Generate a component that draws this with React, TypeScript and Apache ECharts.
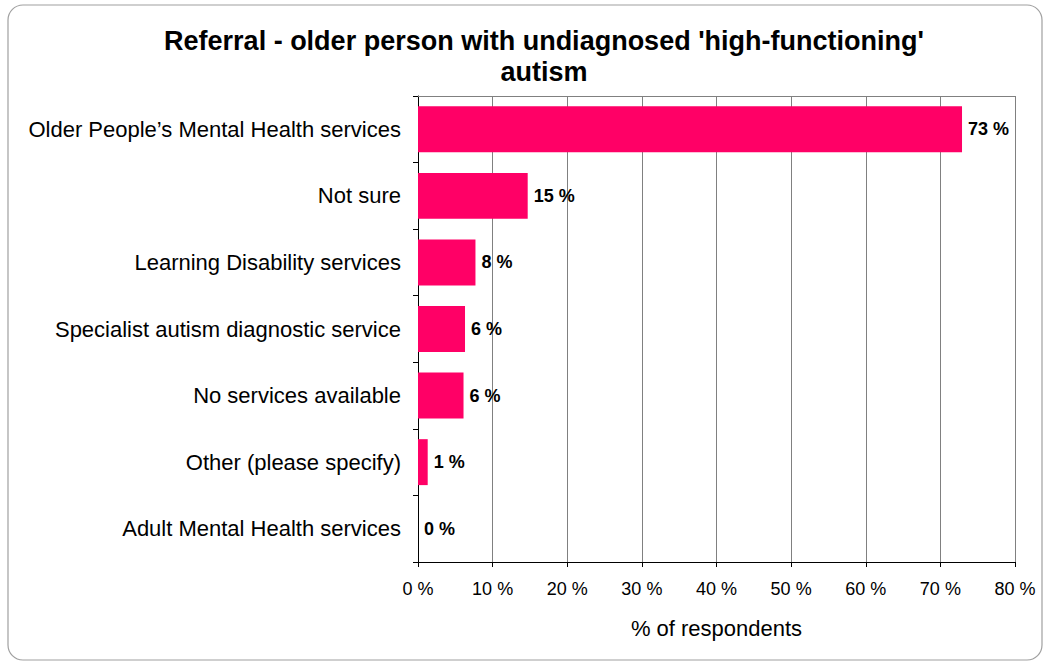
import React, { useEffect, useRef } from "react";
import * as echarts from "echarts";

const categories = [
  "Older People’s Mental Health services",
  "Not sure",
  "Learning Disability services",
  "Specialist autism diagnostic service",
  "No services available",
  "Other (please specify)",
  "Adult Mental Health services",
];
const values = [72.9, 14.7, 7.7, 6.3, 6.1, 1.3, 0];
const titleText = "Referral - older person with undiagnosed 'high-functioning'\nautism";
const xAxisName = "% of respondents";

export default function App() {
  const ref = useRef<HTMLDivElement>(null);
  useEffect(() => {
    if (!ref.current) return;
    const chart = echarts.init(ref.current, null, { renderer: "svg" });
    const font = "Liberation Sans, Arial, sans-serif";
    chart.setOption({
      animation: false,
      backgroundColor: "#ffffff",
      textStyle: { fontFamily: font },
      title: {
        text: titleText,
        left: 539,
        top: 20,
        textAlign: "center",
        textStyle: { fontSize: 27, fontWeight: "bold", color: "#000", lineHeight: 31, fontFamily: font },
      },
      graphic: [
        {
          type: "rect",
          shape: { x: 8, y: 5, width: 1034, height: 655, r: 15 },
          style: { fill: "none", stroke: "#a0a0a0", lineWidth: 1.2 },
          silent: true,
          z: 100,
        },
      ],
      grid: { left: 418, right: 30, top: 96, bottom: 101, containLabel: false },
      xAxis: [
        {
          type: "value",
          min: 0,
          max: 80,
          interval: 10,
          name: xAxisName,
          nameLocation: "middle",
          nameGap: 55,
          nameTextStyle: { fontSize: 22, color: "#000", fontFamily: font },
          axisLine: { show: true, lineStyle: { color: "#000", width: 1 } },
          axisTick: { show: true, length: 5, lineStyle: { color: "#000" } },
          axisLabel: { formatter: "{value} %", fontSize: 18, color: "#000", margin: 18, fontFamily: font },
          splitLine: { show: true, lineStyle: { color: "#808080", width: 1 } },
        },
        {
          type: "value",
          position: "top",
          min: 0,
          max: 80,
          interval: 10,
          axisLine: { show: true, lineStyle: { color: "#808080", width: 1 } },
          axisTick: { show: false },
          axisLabel: { show: false },
          splitLine: { show: false },
        },
      ],
      yAxis: {
        type: "category",
        data: categories,
        inverse: true,
        axisLine: { show: true, lineStyle: { color: "#000", width: 1 } },
        axisTick: { show: true, length: 5, lineStyle: { color: "#000" } },
        axisLabel: { fontSize: 22, color: "#000", margin: 17, fontFamily: font },
        splitLine: { show: false },
      },
      series: [
        {
          type: "bar",
          data: values,
          xAxisIndex: 0,
          barCategoryGap: "31%",
          itemStyle: { color: "#FF0066" },
          label: {
            show: true,
            position: "right",
            distance: 6,
            formatter: (p: any) => `${Math.round(p.value)} %`,
            fontSize: 18,
            fontWeight: "bold",
            color: "#000",
            fontFamily: font,
          },
        },
      ],
    });
    return () => chart.dispose();
  }, []);
  return (
    <div
      ref={ref}
      style={{ position: "fixed", left: 0, top: 0, width: 1045, height: 663 }}
    />
  );
}
